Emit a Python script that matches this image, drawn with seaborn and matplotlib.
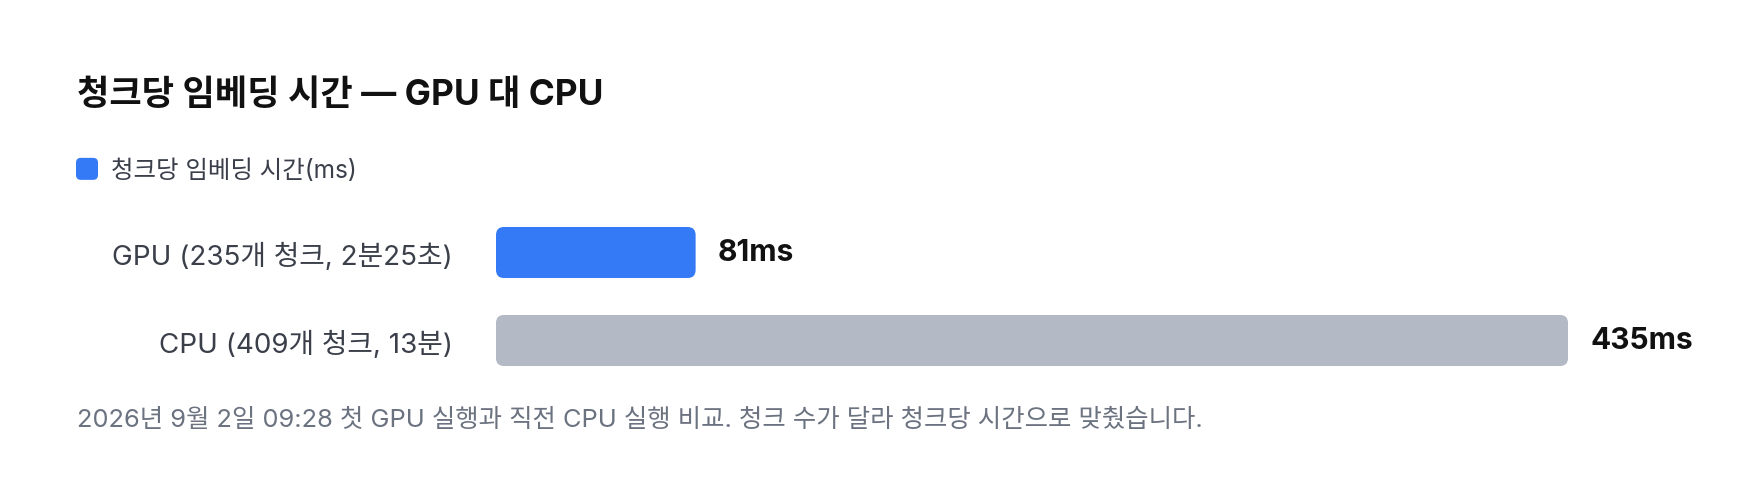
import matplotlib
matplotlib.use("Agg")
import matplotlib.pyplot as plt
from matplotlib.patches import FancyBboxPatch, Patch
from matplotlib.legend_handler import HandlerPatch
import seaborn as sns
import pandas as pd

# data
runs = ["GPU (235개 청크, 2분25초)", "CPU (409개 청크, 13분)"]
ms_per_chunk = [81, 435]
bar_colors = ["#3479f6", "#b3bac5"]
series_name = "청크당 임베딩 시간(ms)"
title = "청크당 임베딩 시간 — GPU 대 CPU"
note = "2026년 9월 2일 09:28 첫 GPU 실행과 직전 CPU 실행 비교. 청크 수가 달라 청크당 시간으로 맞췄습니다."

W, H = 1760, 502


class RoundSquare(HandlerPatch):
    def create_artists(self, legend, orig_handle, xdescent, ydescent,
                       width, height, fontsize, trans):
        s = 22 * 0.72  # ~22 px square
        cy = -ydescent + height / 2
        p = FancyBboxPatch((-xdescent + (width - s) / 2, cy - s / 2), s, s,
                           boxstyle=f"round,pad=0,rounding_size={s * 0.22}",
                           facecolor=orig_handle.get_facecolor(), edgecolor="none",
                           transform=trans)
        return [p]


def main():
    sns.set_theme(style="white")
    plt.rcParams["font.family"] = ["Inter", "Noto Sans CJK KR", "DejaVu Sans"]

    df = pd.DataFrame({"run": runs, "ms": ms_per_chunk})

    fig = plt.figure(figsize=(W / 100, H / 100), dpi=100)
    ax = fig.add_axes([496 / W, (H - 385.5) / H, 1072 / W, 176 / H])
    sns.barplot(data=df, x="ms", y="run", hue="run", palette=bar_colors,
                width=0.58, ax=ax, legend=False, saturation=1)
    ax.set_xlim(0, max(ms_per_chunk))
    ax.set_ylim(1.5, -0.5)
    sns.despine(ax=ax, left=True, bottom=True)
    ax.set_xticks([])
    ax.set_xlabel("")
    ax.set_ylabel("")
    ax.tick_params(axis="y", length=0, pad=31, labelsize=20, labelcolor="#3a3f4a")

    # rounded bars
    fig.canvas.draw()
    x0, y0 = ax.transData.transform((0, 0))
    x1, y1 = ax.transData.transform((1, 1))
    px_x, px_y = abs(x1 - x0), abs(y1 - y0)
    r_px = 8
    for bar in list(ax.patches):
        x, y = bar.get_x(), bar.get_y()
        w, h = bar.get_width(), bar.get_height()
        fc = bar.get_facecolor()
        bar.remove()
        ax.add_patch(FancyBboxPatch((x, y), w, h,
                                    boxstyle=f"round,pad=0,rounding_size={r_px / px_x}",
                                    mutation_aspect=px_x / px_y,
                                    facecolor=fc, edgecolor="none"))

    for i, v in enumerate(ms_per_chunk):
        ax.annotate(f"{v}ms", xy=(v, i), xytext=(22 * 0.72, 0), textcoords="offset points",
                    ha="left", va="center", fontsize=21.5, fontweight="bold",
                    color="#111111", annotation_clip=False)

    fig.text(77 / W, 1 - 105 / H, title, fontsize=25.3, fontweight="bold",
             color="#111111", va="baseline", ha="left")

    fig.legend(handles=[Patch(facecolor=bar_colors[0], label=series_name)],
               handler_map={Patch: RoundSquare()},
               loc="center left", bbox_to_anchor=(76 / W, 1 - 171.5 / H),
               frameon=False, borderpad=0, borderaxespad=0,
               fontsize=17.6, labelcolor="#3a3f4a",
               handlelength=0.9, handleheight=0.9, handletextpad=0.55)

    fig.text(77 / W, 1 - 427 / H, note, fontsize=18.3, color="#6b7280",
             va="baseline", ha="left")

    fig.savefig("out.png", dpi=100, facecolor="white")


main()
